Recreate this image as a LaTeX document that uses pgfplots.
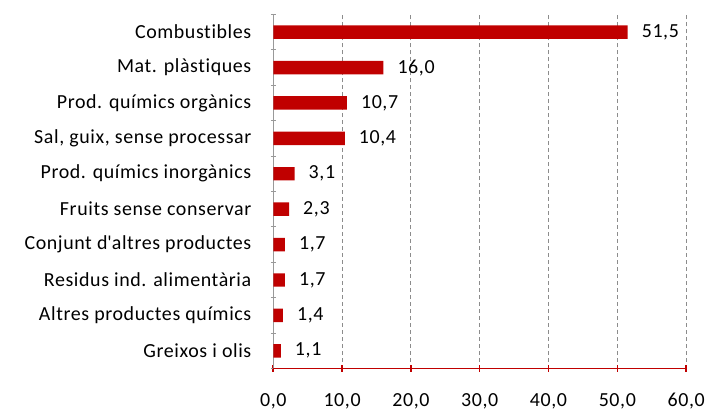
\documentclass[border=0pt]{standalone}
\usepackage{pgfplots}
\pgfplotsset{compat=1.18}
\usepackage{fontspec}
\setmainfont{Carlito}[LetterSpace=3, Ligatures={NoCommon}]
\definecolor{barred}{HTML}{C00000}
\definecolor{gridgray}{HTML}{8C8C8C}
\begin{document}
\begin{tikzpicture}[font=\fontsize{20bp}{24bp}\selectfont]
\begin{axis}[
  scale only axis,
  width=414bp, height=355bp,
  xbar, bar width=13.5bp,
  xmin=0, xmax=60,
  ymin=-0.5, ymax=9.5,
  axis x line=bottom,
  axis y line=left,
  axis line style={-},
  x axis line style={barred, line width=1.6bp},
  y axis line style={gray!80, line width=0.8bp},
  xtick={0,10,...,60},
  xtick align=center,
  x tick style={barred, line width=1.6bp},
  major tick length=7bp,
  ytick={0,...,9},
  every major y tick/.style={draw=none},
  minor ytick={-0.5,0.5,...,9.5},
  minor tick length=5bp,
  every minor y tick/.style={gray!80, line width=0.8bp},
  y tick label style={anchor=east, xshift=-15bp},
  x tick label style={yshift=-18bp},
  yticklabels={Greixos i olis, Altres productes químics, Residus ind. alimentària, Conjunt d\textquotesingle altres productes, Fruits sense conservar, Prod. químics inorgànics, {Sal, guix, sense processar}, Prod. químics orgànics, Mat. plàstiques, Combustibles},
  xmajorgrids,
  grid style={gridgray, dash pattern=on 4bp off 3bp, line width=0.9bp},
  /pgf/number format/.cd, use comma, fixed, fixed zerofill, precision=1, assume math mode=true,
  /pgfplots/.cd,
  nodes near coords,
  nodes near coords style={anchor=west, inner sep=0pt, xshift=14bp, black},
]
\addplot[fill=barred, draw=none] coordinates {
(1.1,0) (1.4,1) (1.7,2) (1.7,3) (2.3,4) (3.1,5) (10.4,6) (10.7,7) (16.0,8) (51.5,9)
};
\end{axis}
\path (current axis.south west) ++(-274bp,-40.5bp) rectangle ++(708bp,410bp);
\end{tikzpicture}
\end{document}
